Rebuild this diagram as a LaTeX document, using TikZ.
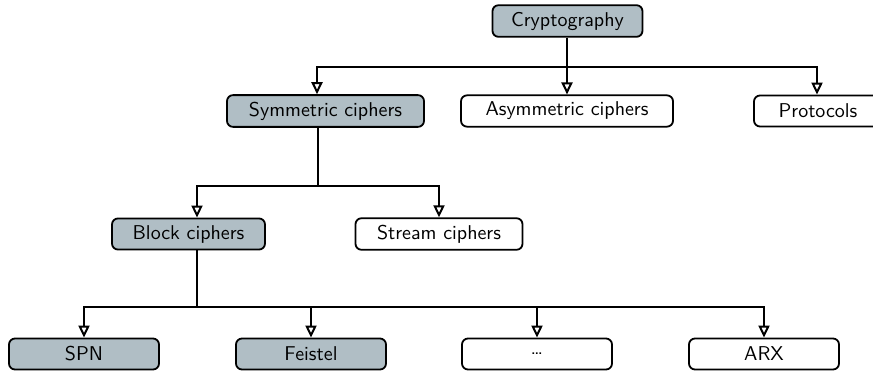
\documentclass[tikz,border=0pt]{standalone}
\usepackage{tikz}
\usetikzlibrary{calc,positioning,arrows.meta}
\definecolor{boxgray}{RGB}{176,190,197}
\tikzset{
  cbox/.style={draw, line width=0.9pt, rounded corners=3pt, fill=white,
    minimum height=15.5pt, minimum width=75pt, inner xsep=0pt, font=\sffamily},
  gbox/.style={cbox, fill=boxgray},
  tarrow/.style={-{Triangle[open,length=6pt,width=5.5pt]}, line width=1pt},
  plain/.style={line width=1pt}
}

\begin{document}
\begin{tikzpicture}[x=0.5pt, y=-0.5pt]
\useasboundingbox (0,0) rectangle (873,370);

% top level
\node[gbox] (crypto) at (567.5,21) {Cryptography};
\node[gbox, minimum width=98.5pt] (sym) at (325.5,111) {Symmetric ciphers};
\node[cbox, minimum width=106pt] (asym) at (567,111) {Asymmetric ciphers};
\node[cbox, minimum width=64pt] (prot) at (818,111) {Protocols};

% second level
\node[gbox, minimum width=76.5pt] (block) at (188.5,234) {Block ciphers};
\node[cbox, minimum width=83.5pt] (stream) at (439,234) {Stream ciphers};

% third level
\node[gbox] (spn) at (84,354) {SPN};
\node[gbox] (feistel) at (311,354) {Feistel};
\node[cbox] (dots) at (537,354) {\dots};
\node[cbox] (arx) at (764,354) {ARX};

\coordinate (j1) at (567,67);
\coordinate (j2) at (318,186);
\coordinate (j3) at (197,307);

\draw[tarrow] (crypto.south -| j1) -- (j1 |- asym.north);
\draw[tarrow] (j1) -| ($(sym.north)+(-8.5,0)$);
\draw[tarrow] (j1) -| ($(prot.north)+(-1,0)$);

\draw[plain] (j2 |- sym.south) -- (j2);
\draw[tarrow] (j2) -| ($(block.north)+(8.5,0)$);
\draw[tarrow] (j2) -| (stream.north);

\draw[plain] (j3 |- block.south) -- (j3);
\draw[tarrow] (j3) -| (spn.north);
\draw[tarrow] (j3) -| (feistel.north);
\draw[tarrow] (j3) -| (dots.north);
\draw[tarrow] (j3) -| (arx.north);
\end{tikzpicture}
\end{document}
